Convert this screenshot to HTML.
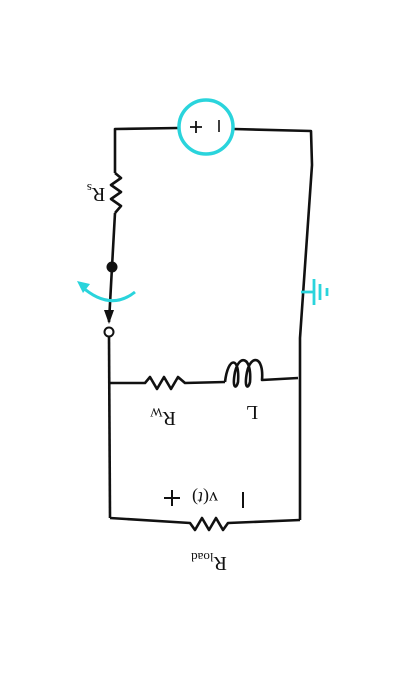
<!DOCTYPE html>
<html><head><meta charset="utf-8"><style>
html,body{margin:0;padding:0;background:#fff;}
svg{display:block;}
text{font-family:"Liberation Serif",serif;fill:#111;}
</style></head><body>
<svg width="419" height="673" viewBox="0 0 419 673">
<g fill="none" stroke="#111" stroke-width="2.6" stroke-linejoin="round">
  <path d="M178 128 L115 129 L115 173"/>
  <path d="M115 173 L121 178 L111 185 L121 192 L111 199 L121 206 L115 213"/>
  <path d="M115 213 L112 267 L109 322"/>
  <path d="M109 337 L110 518"/>
  <path d="M234 129 L311 131 L312 165 L300 338 L300 520"/>
  <path d="M110 383 L145 383 L150 377 L157 389 L164 377 L171 389 L178 377 L185 383 L225 382"/>
  <path d="M225 382 C228 356 240 356 238 382 C236 390 232 388 235 372 C239 354 252 356 250 382 C248 390 244 388 247 372 C251 354 264 356 262 380 L298 378"/>
  <path d="M110 518 L190 523 L195 530 L202 518 L209 530 L216 518 L223 530 L228 523 L300 520"/>
  <path d="M301 292 L313 292 M314 279 L314 305 M320 284 L320 300 M327 288 L327 296" stroke="#2ad4dc" stroke-width="2.8"/>
</g>
<circle cx="206" cy="127" r="27" fill="#fff" stroke="#2ad4dc" stroke-width="3.5"/>
<path d="M190 127 L202 127 M196 121 L196 133" stroke="#111" stroke-width="1.8"/>
<path d="M219 120 L219 132" stroke="#111" stroke-width="1.6"/>
<circle cx="112" cy="267" r="5.5" fill="#111"/>
<path d="M104 310 L114 310 L109 324 Z" fill="#111"/>
<circle cx="109" cy="332" r="4.5" fill="#fff" stroke="#111" stroke-width="2"/>
<path d="M81 286 Q110 312 135 292" fill="none" stroke="#2ad4dc" stroke-width="3"/>
<path d="M77 281 L90 284 L83 293 Z" fill="#2ad4dc"/>
<text transform="translate(96,188) rotate(180)" font-size="20" text-anchor="middle">R<tspan font-size="13" dy="4">s</tspan></text>
<text transform="translate(163,412) rotate(180)" font-size="20" text-anchor="middle">R<tspan font-size="13" dy="4">W</tspan></text>
<text transform="translate(252,406) rotate(180)" font-size="20" text-anchor="middle">L</text>
<text transform="translate(209,557) rotate(180)" font-size="20" text-anchor="middle">R<tspan font-size="13" dy="4">load</tspan></text>
<text transform="translate(205,492) rotate(180)" font-size="18" text-anchor="middle">v(<tspan font-style="italic">t</tspan>)</text>
<path d="M164 498 L180 498 M172 490 L172 506" stroke="#111" stroke-width="2"/>
<path d="M243 492 L243 508" stroke="#111" stroke-width="2"/>
</svg>
</body></html>
